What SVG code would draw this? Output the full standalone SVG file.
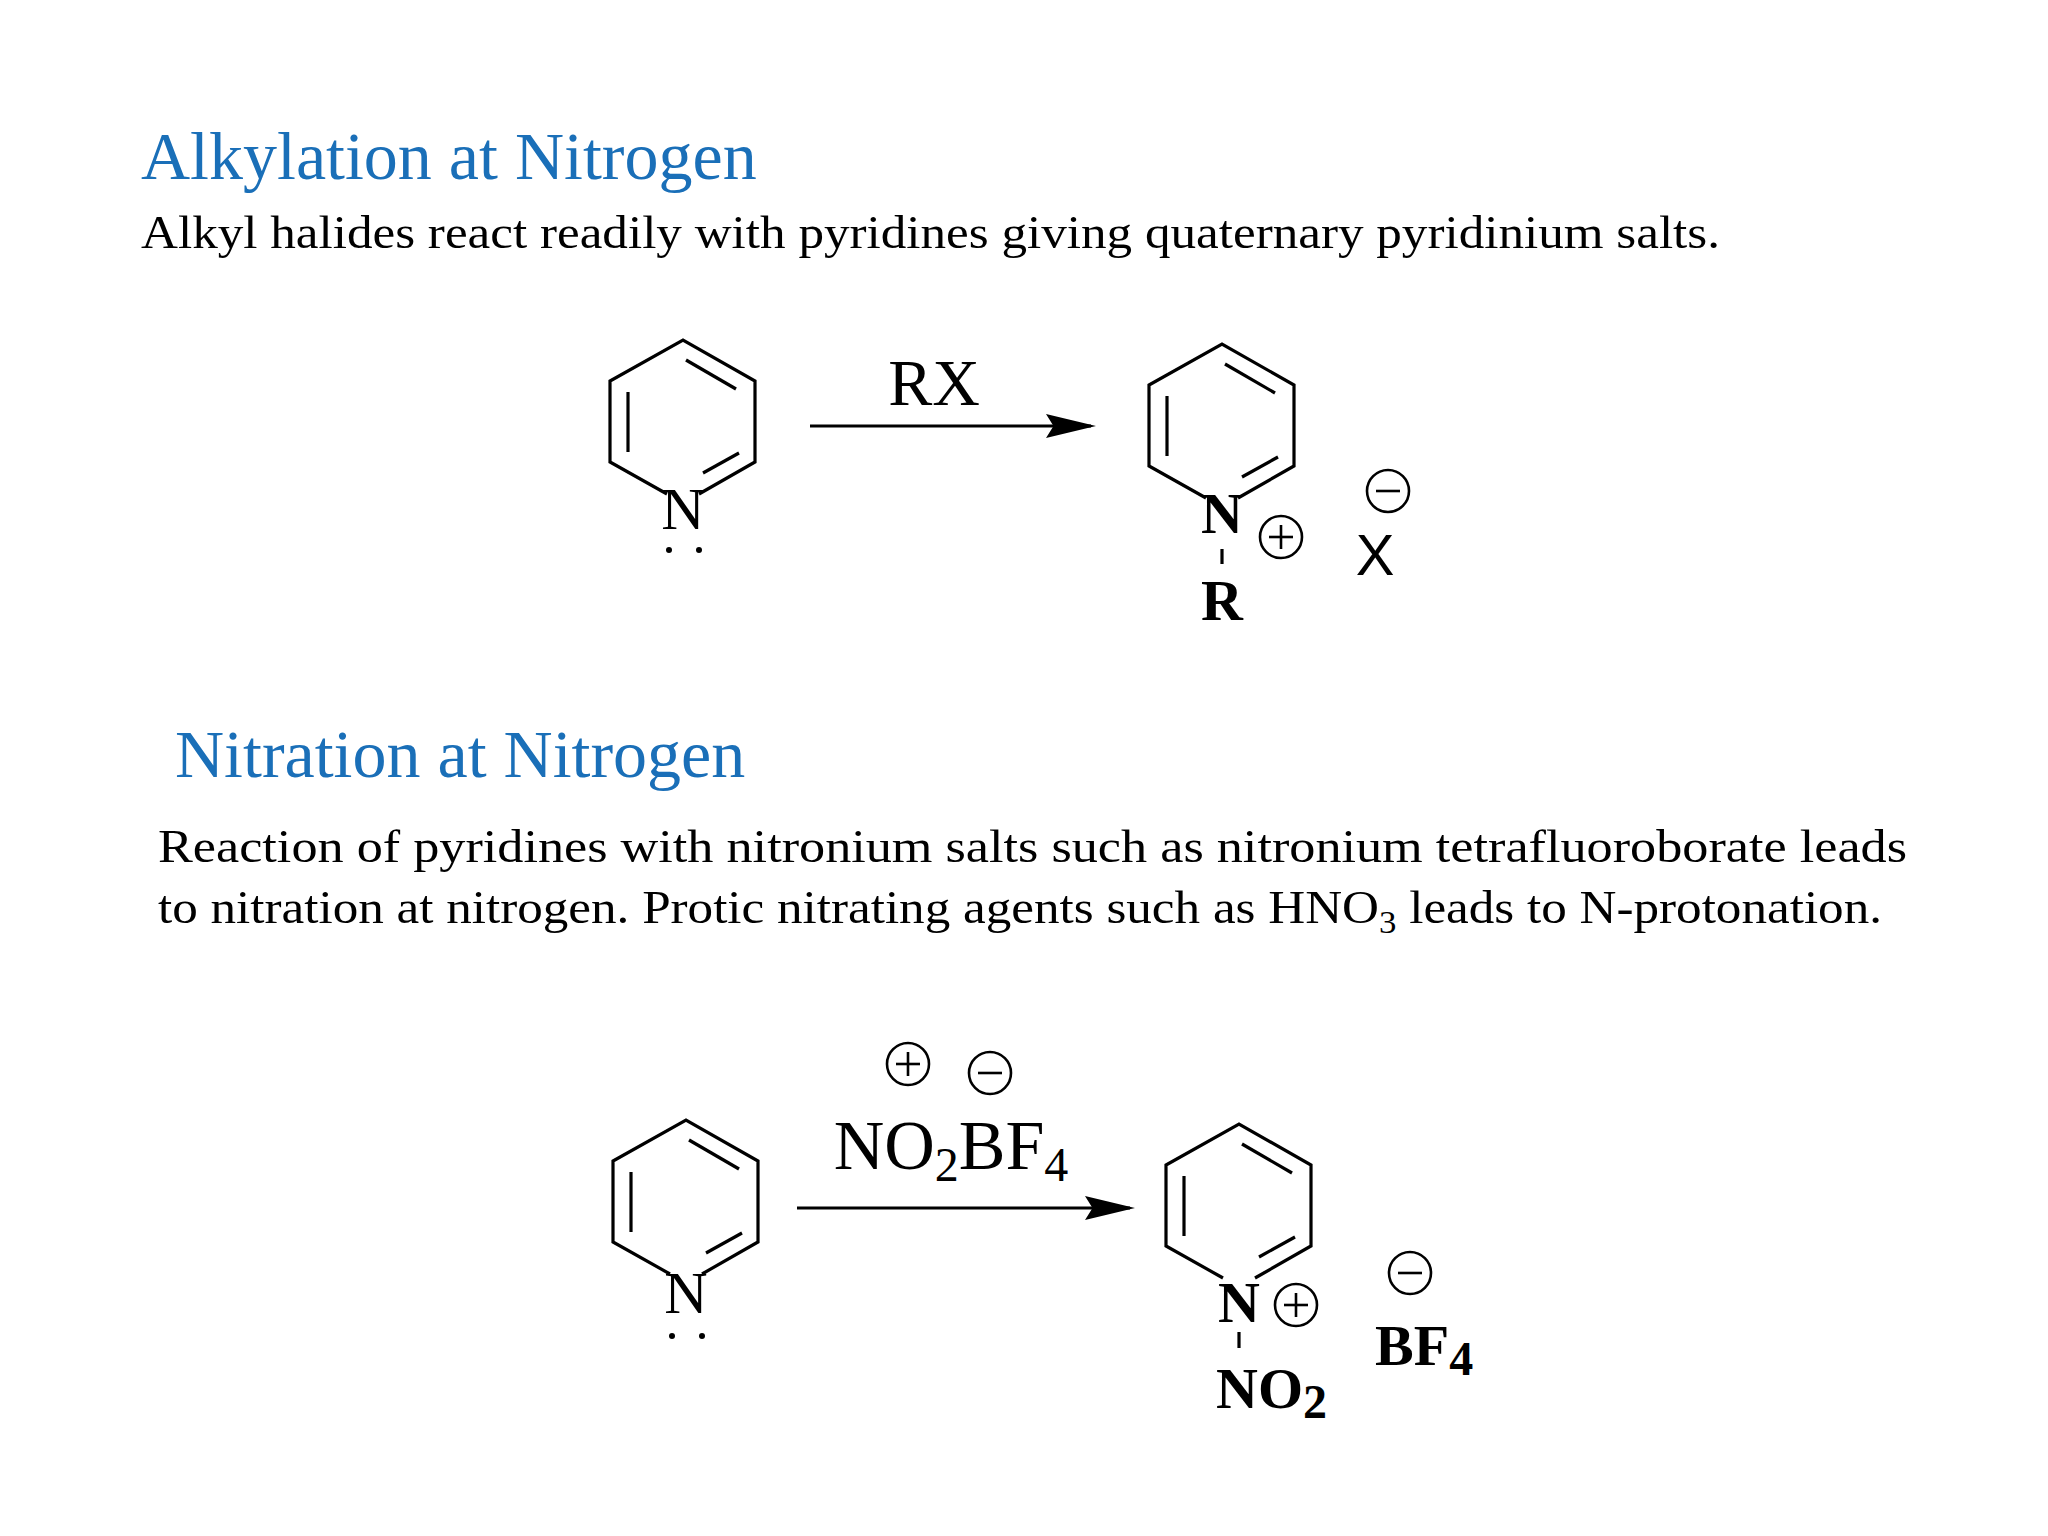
<svg xmlns="http://www.w3.org/2000/svg" width="2048" height="1536" viewBox="0 0 2048 1536">
<style>
.t{font-family:"Liberation Serif",serif;fill:#000}
.h{font-family:"Liberation Serif",serif;fill:#1a6fb8;font-size:68px}
.b{font-size:47px}
.bond{stroke:#000;stroke-width:3.2;fill:none;stroke-linecap:butt}
.chg{stroke:#000;stroke-width:2.6;fill:none}
.at{font-family:"Liberation Serif",serif;font-weight:bold;font-size:58px;text-anchor:middle}
.st{text-anchor:start}
</style>
<defs>
<marker id="ah" viewBox="0 0 10 10" refX="9" refY="5" markerWidth="50" markerHeight="24" markerUnits="userSpaceOnUse" orient="auto" preserveAspectRatio="none">
<path d="M0,0 L10,5 L0,10 L1.5,5 Z" fill="#000"/>
</marker>
<g id="ring">
<path class="bond" d="M667,494 L610,462 L610,381 L683,340 L755,381 L755,462 L699,494"/>
<line class="bond" x1="628" y1="392" x2="628" y2="452"/>
<line class="bond" x1="686" y1="360" x2="736" y2="389"/>
<line class="bond" x1="739" y1="453" x2="703" y2="473"/>
</g>
<g id="plus"><circle class="chg" cx="0" cy="0" r="21"/><line class="chg" x1="-12" y1="0" x2="12" y2="0"/><line class="chg" x1="0" y1="-12" x2="0" y2="12"/></g>
<g id="minus"><circle class="chg" cx="0" cy="0" r="21"/><line class="chg" x1="-12" y1="0" x2="12" y2="0"/></g>
</defs>

<text class="h" x="141" y="179">Alkylation at Nitrogen</text>
<text class="t b" x="141" y="248" textLength="1579" lengthAdjust="spacingAndGlyphs">Alkyl halides react readily with pyridines giving quaternary pyridinium salts.</text>

<g id="pyridine1">
<use href="#ring"/>
<text class="t" x="683" y="529" font-size="60" text-anchor="middle">N</text>
<circle cx="669" cy="550" r="3" fill="#000"/><circle cx="699" cy="550" r="3" fill="#000"/>
</g>
<g id="connectors">
<line class="bond" x1="810" y1="426" x2="1091" y2="426" stroke-width="4" marker-end="url(#ah)"/>
<line class="bond" x1="797" y1="1208" x2="1130" y2="1208" stroke-width="4" marker-end="url(#ah)"/>
</g>
<text class="t" x="934" y="405" font-size="66" text-anchor="middle">RX</text>

<g id="pyridinium1">
<use href="#ring" transform="translate(539,4)"/>
<text class="at" x="1222" y="533">N</text>
<line class="bond" x1="1222" y1="549" x2="1222" y2="564" stroke-width="2.5"/>
<text class="at" x="1222" y="620" font-size="64">R</text>
<use href="#plus" transform="translate(1281,537)"/>
<use href="#minus" transform="translate(1388,491)"/>
<text x="1375" y="575" font-family="Liberation Sans,sans-serif" font-size="58" text-anchor="middle">X</text>
</g>

<text class="h" x="175" y="777">Nitration at Nitrogen</text>
<text class="t b" x="158" y="862" textLength="1749" lengthAdjust="spacingAndGlyphs">Reaction of pyridines with nitronium salts such as nitronium tetrafluoroborate leads</text>
<text class="t b" x="158" y="923" textLength="1724" lengthAdjust="spacingAndGlyphs">to nitration at nitrogen. Protic nitrating agents such as HNO<tspan font-size="32" dy="10">3</tspan><tspan dy="-10"> leads to N-protonation.</tspan></text>

<g id="pyridine2">
<use href="#ring" transform="translate(3,780)"/>
<text class="t" x="686" y="1313" font-size="60" text-anchor="middle">N</text>
<circle cx="672" cy="1336" r="3" fill="#000"/><circle cx="702" cy="1336" r="3" fill="#000"/>
</g>

<g id="reagent2">
<use href="#plus" transform="translate(908,1064)"/>
<use href="#minus" transform="translate(990,1073)"/>
<text class="t" x="951" y="1169" font-size="70" text-anchor="middle">NO<tspan font-size="48" dy="12">2</tspan><tspan dy="-12">BF</tspan><tspan font-size="48" dy="12">4</tspan></text>
</g>

<g id="pyridinium2">
<use href="#ring" transform="translate(556,784)"/>
<text class="at" x="1239" y="1322">N</text>
<use href="#plus" transform="translate(1296,1305)"/>
<line class="bond" x1="1239" y1="1332" x2="1239" y2="1348" stroke-width="2.5"/>
<text class="at st" x="1216" y="1408" font-size="68">NO<tspan font-size="48" dy="10">2</tspan></text>
<use href="#minus" transform="translate(1410,1273)"/>
<text class="at st" x="1375" y="1365" font-size="68">BF<tspan font-size="48" dy="10">4</tspan></text>
</g>
</svg>
